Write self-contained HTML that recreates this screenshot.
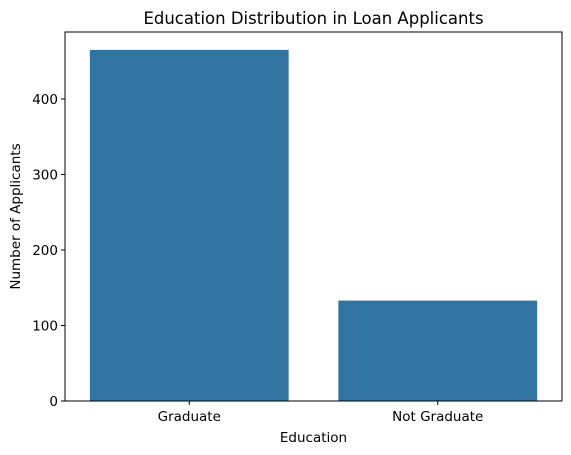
<!DOCTYPE html>
<html><head><meta charset="utf-8"><style>
html,body{margin:0;padding:0;background:#fff;}
svg{display:block;font-family:"DejaVu Sans","Liberation Sans",sans-serif;}
</style></head><body>
<svg id="chart" width="571" height="455" viewBox="0 0 571 455">
<text x="313.5" y="24" text-anchor="middle" font-size="16.5" fill="#000">Education Distribution in Loan Applicants</text>
<g id="bars"></g>
<g id="yticks"></g>
<g id="xticks"></g>
<rect x="65" y="32" width="497" height="369" fill="none" stroke="#000" stroke-width="1"/>
<text x="313.5" y="442" text-anchor="middle" font-size="13.5" fill="#000">Education</text>
<text x="0" y="0" transform="translate(20,216.5) rotate(-90)" text-anchor="middle" font-size="13.5" fill="#000">Number of Applicants</text>
</svg>
<script>
const categories = ["Graduate", "Not Graduate"];
const counts = [465, 133];
const yTicks = [0, 100, 200, 300, 400];

const ns = "http://www.w3.org/2000/svg";
const L = 65, R = 562, B = 401;
const pxPerUnit = 302 / 400;
function yScale(v){ return B - v * pxPerUnit; }
function xScale(i){ const band = (R - L) / categories.length; return L + band * (i + 0.5); }
const bandW = (R - L) / categories.length;

const bars = document.getElementById("bars");
categories.forEach((c, i) => {
  const r = document.createElementNS(ns, "rect");
  const w = bandW * 0.8;
  r.setAttribute("x", xScale(i) - w / 2);
  r.setAttribute("y", yScale(counts[i]));
  r.setAttribute("width", w);
  r.setAttribute("height", B - yScale(counts[i]));
  r.setAttribute("fill", "#3274a1");
  
  
  bars.appendChild(r);

  const t = document.createElementNS(ns, "line");
  t.setAttribute("x1", xScale(i)); t.setAttribute("x2", xScale(i));
  t.setAttribute("y1", B); t.setAttribute("y2", B + 4);
  t.setAttribute("stroke", "#000");
  
  
  document.getElementById("xticks").appendChild(t);
  const lb = document.createElementNS(ns, "text");
  lb.setAttribute("x", xScale(i)); lb.setAttribute("y", B + 20);
  lb.setAttribute("text-anchor", "middle"); lb.setAttribute("font-size", "13.5");
  lb.textContent = c;
  
  
  document.getElementById("xticks").appendChild(lb);
});

yTicks.forEach(v => {
  const g = document.getElementById("yticks");
  const t = document.createElementNS(ns, "line");
  t.setAttribute("x1", L - 4); t.setAttribute("x2", L);
  t.setAttribute("y1", yScale(v)); t.setAttribute("y2", yScale(v));
  t.setAttribute("stroke", "#000");
  
  
  g.appendChild(t);
  const lb = document.createElementNS(ns, "text");
  lb.setAttribute("x", L - 7); lb.setAttribute("y", yScale(v) + 5);
  lb.setAttribute("text-anchor", "end"); lb.setAttribute("font-size", "13.5");
  lb.textContent = v;
  
  
  g.appendChild(lb);
});
</script>
</body></html>
